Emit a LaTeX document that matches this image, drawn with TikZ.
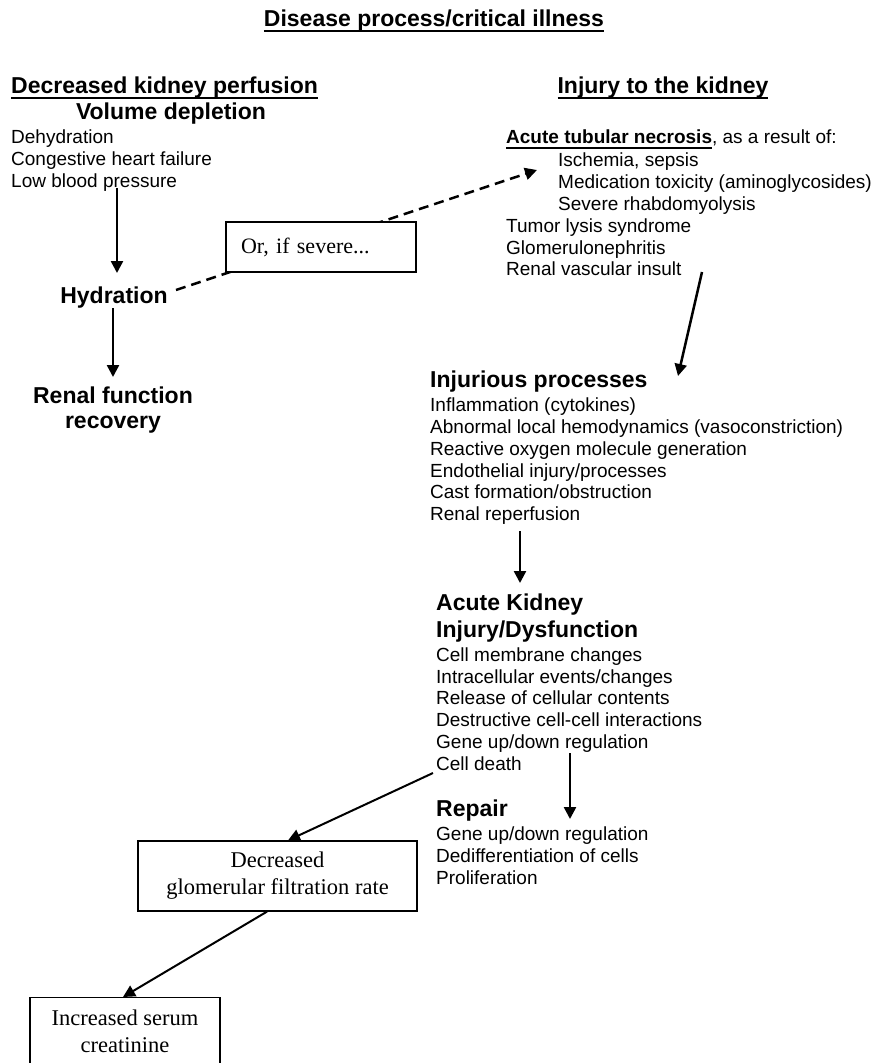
\documentclass[tikz,border=0pt]{standalone}
\usepackage{fontspec}
\setmainfont{Liberation Sans}
\newfontfamily\tnr{Liberation Serif}
\usetikzlibrary{arrows.meta}
\newcommand\myul[1]{\setbox0\hbox{#1}\rlap{\rule[-5.5pt]{\wd0}{1.8pt}}\box0}
\begin{document}
\begin{tikzpicture}[x=1pt,y=-1pt,
  txt/.style={anchor=base west,inner sep=0pt,font=\fontsize{19}{22}\selectfont},
  bhead/.style={anchor=base,inner sep=0pt,font=\bfseries\fontsize{23}{26}\selectfont},
  bheadw/.style={bhead,anchor=base west},
  boxnode/.style={draw,line width=1.2pt,fill=white,font=\tnr\fontsize{22.5}{27}\selectfont,align=center},
  arr/.style={line width=2.5pt,-{Triangle[length=12pt,width=12pt]}},
  thinarr/.style={arr,line width=2pt},
  darr/.style={arr,dash pattern=on 10pt off 6pt}]
\useasboundingbox (0,0) rectangle (878,1063);

% title
\node[bhead] (title) at (434,26) {\myul{Disease process/critical illness}};

% left column
\node[bheadw] (dkp) at (11,93) {\myul{Decreased kidney perfusion}};
\node[bhead] (vd) at (171,119) {Volume depletion};
\node[txt] (l1) at (11,143) {Dehydration};
\node[txt] (l2) at (11,165) {Congestive heart failure};
\node[txt] (l3) at (11,187) {Low blood pressure};
\node[bhead] (hyd) at (114,303) {Hydration};
\node[bhead] (rf1) at (113,403) {Renal function};
\node[bhead] (rf2) at (113,428) {recovery};

% right column
\node[bhead] (itk) at (663,93) {\myul{Injury to the kidney}};
\node[txt] (atn) at (506,143) {\textbf{\myul{Acute tubular necrosis}}, as a result of:};
\node[txt] (r1) at (558,166) {Ischemia, sepsis};
\node[txt] (r2) at (558,188) {Medication toxicity (aminoglycosides)};
\node[txt] (r3) at (558,210) {Severe rhabdomyolysis};
\node[txt] (r4) at (506,232) {Tumor lysis syndrome};
\node[txt] (r5) at (506,254) {Glomerulonephritis};
\node[txt] (r6) at (506,275) {Renal vascular insult};

\node[bheadw] (inj) at (430,387) {Injurious processes};
\node[txt] (i1) at (430,411) {Inflammation (cytokines)};
\node[txt] (i2) at (430,433) {Abnormal local hemodynamics (vasoconstriction)};
\node[txt] (i3) at (430,455) {Reactive oxygen molecule generation};
\node[txt] (i4) at (430,477) {Endothelial injury/processes};
\node[txt] (i5) at (430,498) {Cast formation/obstruction};
\node[txt] (i6) at (430,520) {Renal reperfusion};

\node[bheadw] (aki1) at (436,610) {Acute Kidney};
\node[bheadw] (aki2) at (436,637) {Injury/Dysfunction};
\node[txt] (k1) at (436,661) {Cell membrane changes};
\node[txt] (k2) at (436,683) {Intracellular events/changes};
\node[txt] (k3) at (436,704) {Release of cellular contents};
\node[txt] (k4) at (436,726) {Destructive cell-cell interactions};
\node[txt] (k5) at (436,748) {Gene up/down regulation};
\node[txt] (k6) at (436,770) {Cell death};

\node[bheadw] (rep) at (436,816) {Repair};
\node[txt] (p1) at (436,840) {Gene up/down regulation};
\node[txt] (p2) at (436,862) {Dedifferentiation of cells};
\node[txt] (p3) at (436,884) {Proliferation};

% connector end points
\coordinate (a1s) at (117,188);
\coordinate (a1e) at (117,273);
\coordinate (a2s) at (113,308);
\coordinate (a2e) at (113,377);
\coordinate (ds) at (176,290);
\coordinate (de) at (537,170);
\coordinate (a3s) at (702,272);
\coordinate (a3e) at (678,376);
\coordinate (a4s) at (520,531);
\coordinate (a4e) at (520,583);
\coordinate (a5s) at (570,753);
\coordinate (a5e) at (570,819);
\coordinate (a6s) at (433,773);

% dashed arrow (passes behind the box)
\draw[darr] (ds) -- (de);
\node[boxnode,minimum width=190pt,minimum height=50pt,text width=160pt,inner xsep=15pt,align=left,font=\tnr\fontsize{22}{26}\selectfont] (sev) at (321,247) {Or, if severe...};

% boxes
\node[boxnode,minimum width=279pt,minimum height=70pt] (gfr) at (277.5,876) {Decreased\\glomerular filtration rate};
\node[boxnode,anchor=north,minimum width=190pt,inner ysep=12pt] (cre) at (125,997) {Increased serum\\creatinine};

% arrows
\draw[arr] (a1s) -- (a1e);
\draw[arr] (a2s) -- (a2e);
\draw[arr] (a3s) -- (a3e);
\draw[arr] (a4s) -- (a4e);
\draw[arr] (a5s) -- (a5e);
\draw[thinarr] (a6s) -- ([xshift=10.5pt]gfr.north);
\draw[thinarr] ([xshift=-10.5pt]gfr.south) -- ([xshift=-2pt]cre.north);
\end{tikzpicture}
\end{document}
